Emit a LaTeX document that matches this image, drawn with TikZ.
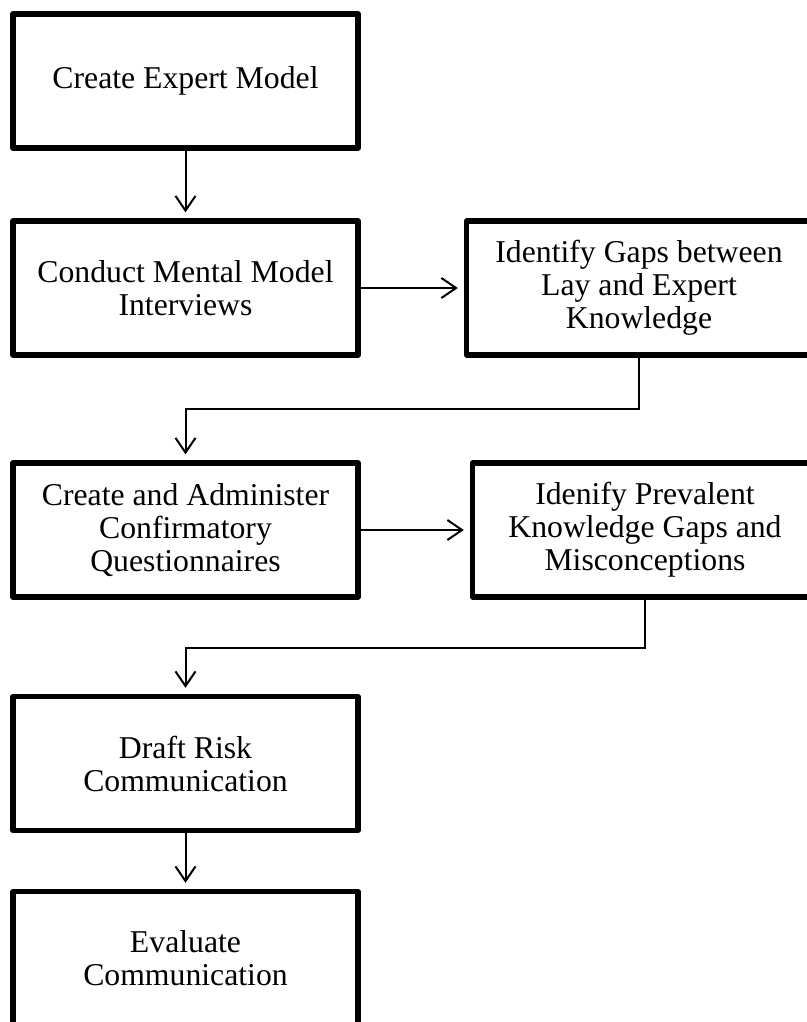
\documentclass[tikz,border=0pt]{standalone}
\usepackage{fontspec}
\setmainfont{Liberation Serif}
\usetikzlibrary{arrows.meta}

\begin{document}
\begin{tikzpicture}[x=0.75pt, y=-0.75pt,
    stage/.style={rectangle, draw, line width=4pt, line join=round,
      minimum width=258.75pt, minimum height=100.5pt, inner sep=0pt,
      align=center, font=\fontsize{23.8pt}{24.75pt}\selectfont},
    link/.style={line width=1.5pt,
      -{Straight Barb[length=11pt, width=15pt, line width=1.5pt]},
      shorten >=4.5pt}]
  \useasboundingbox (0,0) rectangle (807,1022);
  \clip (0,0) rectangle (807,1022);

  % Step 1 : expert model
  \node[stage] (expert) at (185.5,81) {Create Expert Model};

  % Step 2 : interviews and gaps
  \node[stage] (interviews) at (185.5,288) {Conduct Mental Model\\Interviews};
  \node[stage] (gaps) at (639,288) {Identify Gaps between\\Lay and Expert\\Knowledge};

  % Step 3 : questionnaires and prevalent gaps
  \node[stage] (survey) at (185.5,530) {Create and Administer\\Confirmatory\\Questionnaires};
  \node[stage] (prevalent) at (645,530) {Idenify Prevalent\\Knowledge Gaps and\\Misconceptions};

  % Step 4 : communication
  \node[stage] (draft) at (185.5,763.5) {Draft Risk\\Communication};
  \node[stage] (evaluate) at (185.5,958.5) {Evaluate\\Communication};

  % Connectors
  \draw[link] (expert) -- (interviews);
  \draw[link] (interviews) -- (gaps);
  \draw[link] (gaps.south) -- ++(0,51) -| (survey.north);
  \draw[link] (survey) -- (prevalent);
  \draw[link] (prevalent.south) -- ++(0,48) -| (draft.north);
  \draw[link] (draft) -- (evaluate);
\end{tikzpicture}
\end{document}
